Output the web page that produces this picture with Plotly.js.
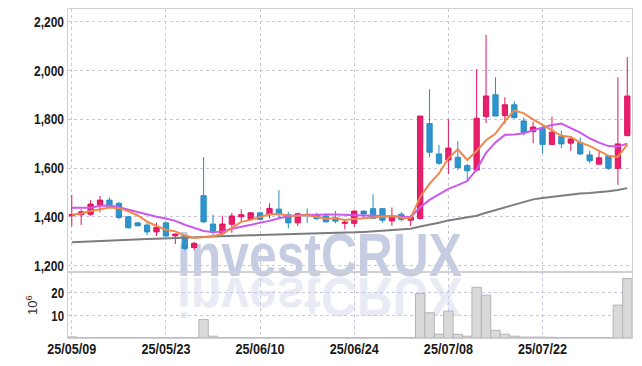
<!DOCTYPE html>
<html>
<head>
<meta charset="utf-8">
<script src="https://cdn.plot.ly/plotly-3.0.1.min.js"></script>
<style>
  html, body { margin:0; padding:0; background:#ffffff; }
  #wrap { position:relative; width:642px; height:366px; overflow:hidden; }
  .wm { position:absolute; left:177px; white-space:nowrap; font-family:'Liberation Sans',Arial,sans-serif; font-weight:bold; font-size:61px; line-height:61px; transform-origin:0 0; }
  #wm1 { top:225px; color:#c6cce1; }
  #wm2 { top:225px; color:#e9ebf4; }
  #chart { position:absolute; left:0; top:0; }
</style>
</head>
<body>
<div id="wrap">
  <div class="wm" id="wm2">investCRUX</div>
  <div class="wm" id="wm1">investCRUX</div>
  <div id="chart"></div>
</div>
<script>
const dates = ["25/05/09","25/05/12","25/05/13","25/05/14","25/05/15","25/05/16","25/05/19","25/05/20","25/05/21","25/05/22",
"25/05/23","25/05/26","25/05/27","25/05/28","25/05/29","25/05/30","25/06/02","25/06/04","25/06/05","25/06/09",
"25/06/10","25/06/11","25/06/12","25/06/13","25/06/16","25/06/17","25/06/18","25/06/19","25/06/20","25/06/23",
"25/06/24","25/06/25","25/06/26","25/06/27","25/06/30","25/07/01","25/07/02","25/07/03","25/07/04","25/07/07",
"25/07/08","25/07/09","25/07/10","25/07/11","25/07/14","25/07/15","25/07/16","25/07/17","25/07/18","25/07/21",
"25/07/22","25/07/23","25/07/24","25/07/25","25/07/28","25/07/29","25/07/30","25/07/31","25/08/01","25/08/04"];

const openP  = [1405,1409,1411,1449,1469,1456,1401,1376,1367,1339,1376,1323,1322,1275,1487,1371,1333,1370,1401,1390,
                1417,1412,1432,1409,1376,1411,1409,1404,1397,1374,1374,1424,1434,1434,1384,1411,1387,1394,1782,1658,
                1633,1644,1610,1592,1811,1900,1815,1859,1793,1749,1763,1697,1729,1702,1705,1654,1616,1650,1599,1733];
const highP  = [1490,1431,1469,1486,1480,1461,1403,1378,1376,1376,1378,1332,1325,1298,1645,1409,1405,1417,1431,1419,
                1419,1456,1510,1420,1418,1435,1417,1415,1425,1387,1426,1426,1493,1436,1439,1421,1408,1813,1923,1695,
                1800,1710,1617,2005,2145,1972,1890,1873,1807,1790,1772,1811,1752,1729,1725,1671,1674,1654,1972,2054];
const lowP   = [1363,1367,1405,1419,1439,1390,1352,1362,1326,1322,1320,1289,1264,1264,1375,1323,1320,1335,1380,1388,
                1388,1394,1394,1353,1363,1376,1388,1378,1374,1349,1360,1398,1392,1377,1364,1381,1363,1390,1644,1613,
                1575,1592,1542,1585,1784,1813,1781,1802,1733,1702,1661,1695,1681,1670,1654,1620,1615,1593,1531,1730];
const closeP = [1410,1421,1453,1469,1442,1398,1356,1364,1339,1357,1322,1330,1271,1292,1380,1337,1371,1404,1409,1417,
                1390,1435,1411,1376,1413,1405,1393,1380,1383,1378,1424,1412,1394,1387,1404,1390,1400,1813,1665,1620,
                1682,1602,1589,1804,1895,1813,1859,1807,1747,1768,1697,1747,1699,1719,1658,1630,1642,1599,1699,1895];

const ma5  = [1409,1414,1424,1432,1439,1436,1424,1406,1381,1363,1348,1341,1324,1314,1319,1321,1331,1357,1380,1388,
              1398,1411,1412,1406,1405,1408,1400,1393,1395,1388,1392,1395,1398,1399,1404,1397,1395,1482,1536,1578,
              1640,1677,1633,1670,1714,1741,1792,1836,1824,1799,1776,1753,1732,1727,1704,1691,1670,1650,1646,1697];
const ma20 = [1438,1438,1438,1446,1447,1440,1430,1418,1410,1401,1394,1384,1368,1355,1343,1338,1340,1352,1360,1367,
              1375,1384,1395,1403,1407,1409,1410,1410,1410,1409,1408,1406,1404,1403,1402,1401,1400,1440,1470,1492,
              1515,1530,1547,1595,1662,1705,1736,1737,1743,1755,1766,1776,1782,1765,1745,1722,1704,1690,1688,1700];
const ma60 = [1297,1299,1301,1303,1305,1306,1308,1309,1310,1311,1312,1313,1314,1316,1318,1320,1322,1323,1324,1325,
              1326,1327,1328,1328,1329,1330,1331,1332,1333,1335,1337,1339,1341,1343,1345,1348,1352,1361,1368,1376,
              1386,1392,1397,1405,1417,1428,1440,1452,1463,1472,1478,1483,1488,1493,1496,1498,1500,1505,1510,1518];

const volume = [0.5,0.1,0.1,0.1,0.1,0.1,0.1,0.1,0.1,0.1,0.1,0.1,0.1,0.1,8.2,0.8,0.1,0.1,0.1,0.1,
                0.1,0.1,0.1,0.1,0.1,0.1,0.1,0.1,0.1,0.1,0.1,0.1,0.1,0.1,0.1,0.1,0.1,19.7,11.2,1.7,
                11.9,1.6,0.8,22.5,19.0,3.4,1.7,0.8,0.4,0.4,0.4,0.3,0.1,0.1,0.1,0.1,0.1,0.1,14.6,26.4];

const tickDates = [dates[0], dates[10], dates[20], dates[30], dates[40], dates[50]];
const priceTicks = [1200,1400,1600,1800,2000,2200];
const volTicks = [10,20];

const tickFont = {family:"'Liberation Sans',Arial,sans-serif", size:15, color:'#1a1a1a', weight:'bold'};
const gridColor = '#c6c6de';
const frameColor = '#cfcfd8';

const traces = [
  {type:'bar', x:dates, y:volume, xaxis:'x2', yaxis:'y2',
   marker:{color:'#d9d9d9', line:{color:'#b4b4b4', width:1}}, hoverinfo:'skip'},
  {type:'candlestick', x:dates, open:openP, high:highP, low:lowP, close:closeP,
   xaxis:'x', yaxis:'y',
   increasing:{fillcolor:'#e8206c', line:{color:'#e0145f', width:1}},
   decreasing:{fillcolor:'#2e95cc', line:{color:'#2a8cc2', width:1}},
   whiskerwidth:0},
  {type:'scatter', mode:'lines', x:dates, y:ma60, line:{color:'#7d7d7d', width:2}, hoverinfo:'skip'},
  {type:'scatter', mode:'lines', x:dates, y:ma20, line:{color:'#cc58ec', width:2}, hoverinfo:'skip'},
  {type:'scatter', mode:'lines', x:dates, y:ma5, line:{color:'#f0884c', width:2}, hoverinfo:'skip'}
];

const layout = {
  width:642, height:366,
  margin:{l:68, r:10, t:9, b:28},
  paper_bgcolor:'rgba(0,0,0,0)', plot_bgcolor:'rgba(0,0,0,0)',
  showlegend:false,
  boxgap:0.44, boxgroupgap:0,
  bargap:0,
  xaxis:{type:'category', range:[-0.4,59.5], anchor:'y', rangeslider:{visible:false},
         tickmode:'array', tickvals:tickDates, showticklabels:false, ticks:'',
         showgrid:true, gridcolor:gridColor, griddash:'dot', gridwidth:1,
         showline:true, mirror:true, linecolor:frameColor, linewidth:1, zeroline:false},
  xaxis2:{type:'category', range:[-0.4,59.5], anchor:'y2', matches:'x',
         tickmode:'array', tickvals:tickDates, ticktext:tickDates, ticks:'', tickfont:tickFont,
         ticklabelstandoff:-3,
         showgrid:true, gridcolor:gridColor, griddash:'dot', gridwidth:1,
         showline:true, mirror:true, linecolor:frameColor, linewidth:1, zeroline:false},
  yaxis:{domain:[0.2,1], range:[1174,2251], tickmode:'array', tickvals:priceTicks, tickformat:',d',
         ticks:'', tickfont:tickFont, showgrid:true, gridcolor:gridColor, griddash:'dot', gridwidth:1,
         showline:true, mirror:true, linecolor:frameColor, linewidth:1, zeroline:false},
  yaxis2:{domain:[0,0.2], range:[0,29.2], tickmode:'array', tickvals:volTicks,
         ticks:'', tickfont:tickFont, showgrid:true, gridcolor:gridColor, griddash:'dot', gridwidth:1,
         showline:true, mirror:true, linecolor:frameColor, linewidth:1, zeroline:false,
         title:{text:'10<sup>6</sup>', font:{family:"'Liberation Sans',Arial,sans-serif", size:13, color:'#333'}, standoff:6}}
};

function narrowTicks(){
  const sel = [['.xtick text',0.84],['.x2tick text',0.84],['.ytick text',0.8],['.y2tick text',0.76]];
  sel.forEach(function(p){
    document.querySelectorAll('#chart ' + p[0]).forEach(function(t){
      const w = t.getComputedTextLength();
      if (w > 0) {
        t.setAttribute('textLength', (w * p[1]).toFixed(2));
        t.setAttribute('lengthAdjust', 'spacingAndGlyphs');
      }
    });
  });
}

Plotly.newPlot('chart', traces, layout, {displayModeBar:false, staticPlot:true}).then(narrowTicks);

(function(){
  const target = 285;
  const w1 = document.getElementById('wm1');
  const w2 = document.getElementById('wm2');
  const sx = target / w1.getBoundingClientRect().width;
  w1.style.transform = 'scaleX(' + sx + ')';
  w2.style.transformOrigin = '0 52px';
  w2.style.transform = 'scale(' + sx + ',-0.9)';
})();
</script>
</body>
</html>
